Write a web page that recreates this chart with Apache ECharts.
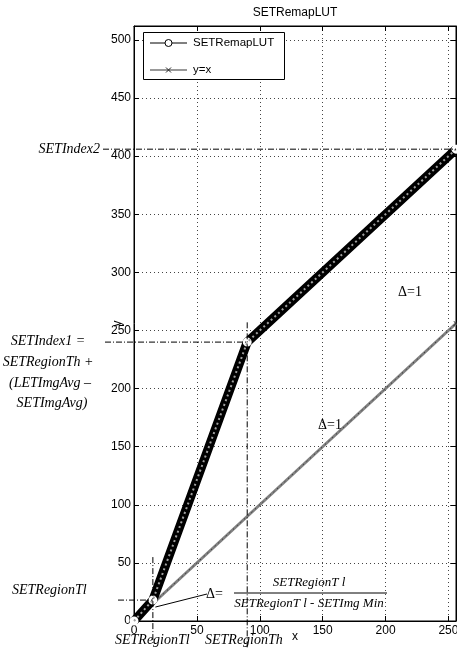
<!DOCTYPE html>
<html><head><meta charset="utf-8">
<script src="https://cdn.jsdelivr.net/npm/echarts@6/dist/echarts.min.js"></script>
<style>html,body{margin:0;padding:0;background:#fff}#c{width:457px;height:655px}</style>
</head><body><div id="c"></div>
<script>
// LUT breakpoints
const lutX = [0, 15, 90, 256];
const lutY = [0, 18, 240, 406];
// identity reference line
const idX = [0, 256];
const idY = [0, 256];
// tick values
const xTicks = [0, 50, 100, 150, 200, 250];
const yTicks = [0, 50, 100, 150, 200, 250, 300, 350, 400, 450, 500];
// series names
const seriesNames = ['SETRemapLUT', 'y=x'];
// annotation levels (data units)
const regionTl = 15, regionTlLevel = 18, regionTh = 90, index1 = 240, index2 = 406;

const lut = lutX.map((x, i) => [x, lutY[i]]);
const ident = idX.map((x, i) => [x, idY[i]]);
const crossPath = 'path://M0,1L1,0L5,4L9,0L10,1L6,5L10,9L9,10L5,6L1,10L0,9L4,5Z';
const sans = 'Liberation Sans, Arial, sans-serif';
const serif = 'Liberation Serif, Times New Roman, serif';

const chart = echarts.init(document.getElementById('c'), null, {renderer: 'canvas'});
const axisCommon = {
  type: 'value',
  axisLine: {show: true, onZero: false, lineStyle: {color: '#000', width: 1}},
};
chart.setOption({
  animation: false,
  backgroundColor: '#fff',
  grid: {left: 134, top: 26, right: 1, bottom: 34, show: true, borderColor: '#000', borderWidth: 1,
    backgroundColor: '#fff', containLabel: false, outerBoundsMode: 'none'},
  xAxis: [
    Object.assign({}, axisCommon, {min: 0, max: 256, interval: 50, position: 'bottom',
      axisLabel: {show: true, color: '#000', fontSize: 12, fontFamily: sans, margin: 4, customValues: xTicks},
      axisTick: {show: true, inside: true, length: 5, lineStyle: {color: '#000'}, customValues: xTicks},
      splitLine: {show: true, lineStyle: {color: '#444', width: 1, type: [1, 3]}}}),
    Object.assign({}, axisCommon, {min: 0, max: 256, interval: 50, position: 'top',
      axisLabel: {show: false},
      axisTick: {show: true, inside: true, length: 5, lineStyle: {color: '#000'}, customValues: xTicks},
      splitLine: {show: false}})
  ],
  yAxis: [
    Object.assign({}, axisCommon, {min: 0, max: 512, interval: 50, position: 'left',
      axisLabel: {show: true, color: '#000', fontSize: 12, fontFamily: sans, margin: 3, customValues: yTicks},
      axisTick: {show: true, inside: true, length: 5, lineStyle: {color: '#000'}, customValues: yTicks},
      splitLine: {show: true, lineStyle: {color: '#444', width: 1, type: [1, 3]}}}),
    Object.assign({}, axisCommon, {min: 0, max: 512, interval: 50, position: 'right',
      axisLabel: {show: false},
      axisTick: {show: true, inside: true, length: 5, lineStyle: {color: '#000'}, customValues: yTicks},
      splitLine: {show: false}})
  ],
  series: [
    {name: seriesNames[1], type: 'line', data: ident, symbol: crossPath, symbolSize: 5, showSymbol: true,
      lineStyle: {color: '#808080', width: 3}, itemStyle: {color: '#222'}, z: 2},
    {name: '_id', type: 'line', data: ident, symbol: 'none', silent: true,
      lineStyle: {color: '#222', width: 1, type: [1, 4]}, z: 2},
    {name: seriesNames[0], type: 'line', data: lut, symbol: 'emptyCircle', symbolSize: 7, showSymbol: true,
      lineStyle: {color: '#000', width: 9}, itemStyle: {color: '#fff', borderColor: '#000', borderWidth: 1.2}, z: 3},
    {name: '_band', type: 'line', data: lut, symbol: 'none', silent: true,
      lineStyle: {color: '#a0a0a0', width: 2, type: [2, 3]}, z: 4}
  ]
});

const P = (x, y) => chart.convertToPixel({gridIndex: 0}, [x, y]);
const o = P(0, 0), e = P(256, 512);
const dashDot = [6, 2, 1, 2];
const line = (x1, y1, x2, y2, dash, stroke, w) => ({type: 'line', z: 50, shape: {x1, y1, x2, y2},
  style: {stroke: stroke || '#000', lineWidth: w || 1, lineDash: dash || null}});
const txt = (t, x, y, opt) => ({type: 'text', z: 60, x, y, style: Object.assign({text: t, fill: '#000',
  font: 'italic 14px ' + serif, textAlign: 'left', textVerticalAlign: 'middle'}, opt || {})});

const i2 = P(256, index2), i1 = P(regionTh, index1), th0 = P(regionTh, 0), thTop = P(regionTh, 257);
const tl = P(regionTl, regionTlLevel), tlTop = P(regionTl, 55), tl0 = P(regionTl, 0);
const arrowEnd = P(17, 12);
const mid = (o[0] + e[0]) / 2;

// legend box
const lg = {x: 143, y: 32, w: 141, h: 47};
const row1 = lg.y + 11, row2 = lg.y + 38;
const legend = [
  {type: 'rect', z: 70, shape: {x: lg.x + 0.5, y: lg.y + 0.5, width: lg.w, height: lg.h}, style: {fill: '#fff', stroke: '#000', lineWidth: 1}},
  line(lg.x + 7, row1, lg.x + 44, row1, null, '#000', 1),
  {type: 'circle', z: 71, shape: {cx: lg.x + 25.5, cy: row1, r: 3.5}, style: {fill: '#fff', stroke: '#000', lineWidth: 1}},
  txt(seriesNames[0], lg.x + 50, row1, {font: '11.5px ' + sans}),
  line(lg.x + 7, row2, lg.x + 44, row2, null, '#777', 1.5),
  line(lg.x + 23, row2 - 2.5, lg.x + 28, row2 + 2.5, null, '#222', 1),
  line(lg.x + 23, row2 + 2.5, lg.x + 28, row2 - 2.5, null, '#222', 1),
  txt(seriesNames[1], lg.x + 50, row2, {font: '11.5px ' + sans})
];
legend.forEach(g => { g.z = Math.max(g.z, 70); });

chart.setOption({graphic: [
  txt('SETRemapLUT', mid, 13, {font: '12px ' + sans, textAlign: 'center'}),
  txt('x', mid, 637, {font: '12px ' + sans, textAlign: 'center'}),
  {type: 'text', z: 60, x: 118, y: (o[1] + e[1]) / 2, rotation: Math.PI / 2,
    style: {text: 'y', fill: '#000', font: '12px ' + sans, textAlign: 'center', textVerticalAlign: 'middle'}},
  line(o[0] - 31, i2[1], e[0], i2[1], dashDot),
  line(o[0] - 29, i1[1], i1[0], i1[1], dashDot),
  line(th0[0], thTop[1], th0[0], th0[1] + 27, dashDot),
  line(o[0] - 16, tl[1], tl[0], tl[1], dashDot),
  line(tl0[0], tlTop[1], tl0[0], tl0[1] + 24, dashDot),
  txt('SETIndex2', 100, i2[1], {textAlign: 'right'}),
  txt('SETIndex1 =', 48, 341, {textAlign: 'center'}),
  txt('SETRegionTh +', 48, 362, {textAlign: 'center'}),
  txt('(LETImgAvg \u2013', 50, 383, {textAlign: 'center'}),
  txt('SETImgAvg)', 52, 403, {textAlign: 'center'}),
  txt('SETRegionTl', 12, 590),
  txt('SETRegionTl', 115, 640),
  txt('SETRegionTh', 205, 640),
  txt('\u0394=1', 398, 292, {font: '14px ' + serif}),
  txt('\u0394=1', 318, 425, {font: '14px ' + serif}),
  txt('\u0394=', 206, 594, {font: '14px ' + serif}),
  line(207, 594, arrowEnd[0], arrowEnd[1]),
  txt('SETRegionT l', 309, 583, {textAlign: 'center', font: 'italic 13px ' + serif}),
  line(234, 593, 387, 593),
  txt('SETRegionT l - SETImg Min', 309, 604, {textAlign: 'center', font: 'italic 13px ' + serif})
].concat(legend)});
</script></body></html>
